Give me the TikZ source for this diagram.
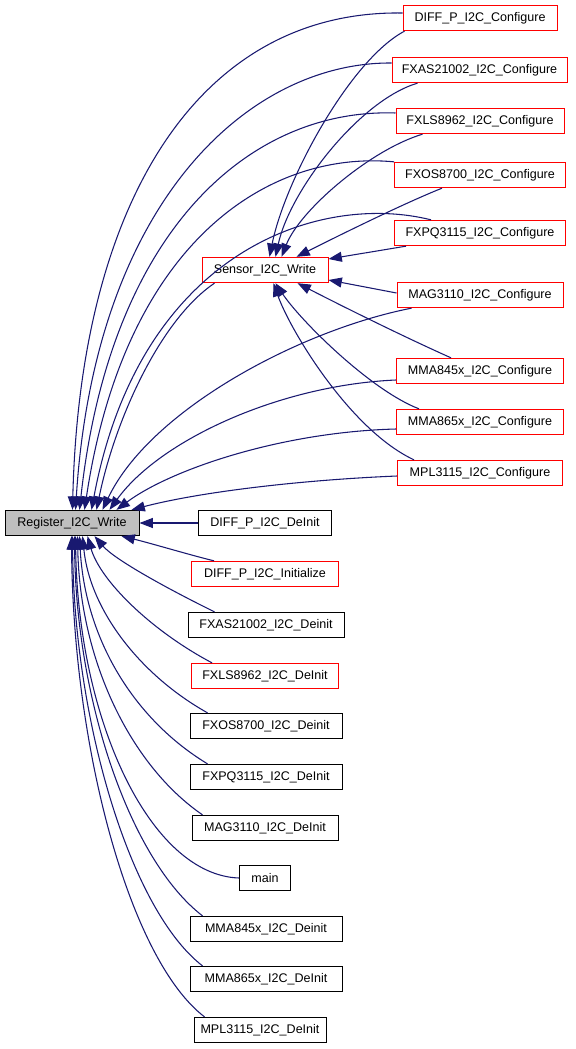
\documentclass[tikz,border=0pt]{standalone}
\usepackage{fontspec}
\setmainfont{Liberation Sans}
\usetikzlibrary{arrows.meta,calc}
\definecolor{edgec}{HTML}{191970}
\definecolor{redc}{HTML}{FF0000}
\definecolor{grayc}{HTML}{BFBFBF}
\begin{document}
\begin{tikzpicture}[x=0.75pt,y=-0.75pt,
  font=\fontsize{9.4}{11}\selectfont,
  box/.style={draw=black, line width=0.75pt, fill=white, minimum height=19pt, inner sep=0pt},
  rbox/.style={box, draw=redc},
  arr/.style={draw=edgec, line width=0.8pt, -{Triangle[length=10pt,width=7.5pt]}, fill=none}]
\useasboundingbox (0,0) rectangle (575,1049);

% nodes
\node[box, fill=grayc, minimum width=100.5pt] (reg) at (72,523) {Register\_I2C\_Write};
\node[rbox, minimum width=94.5pt] (sens) at (265,270) {Sensor\_I2C\_Write};

\node[rbox, minimum width=115.5pt] (c1) at (480,18) {DIFF\_P\_I2C\_Configure};
\node[rbox, minimum width=131.25pt] (c2) at (479.5,70) {FXAS21002\_I2C\_Configure};
\node[rbox, minimum width=126pt] (c3) at (480,121) {FXLS8962\_I2C\_Configure};
\node[rbox, minimum width=128.25pt] (c4) at (480,175) {FXOS8700\_I2C\_Configure};
\node[rbox, minimum width=128.25pt] (c5) at (480,233) {FXPQ3115\_I2C\_Configure};
\node[rbox, minimum width=124.5pt] (c6) at (480,295) {MAG3110\_I2C\_Configure};
\node[rbox, minimum width=125.25pt] (c7) at (480,371) {MMA845x\_I2C\_Configure};
\node[rbox, minimum width=125.25pt] (c8) at (480,422) {MMA865x\_I2C\_Configure};
\node[rbox, minimum width=123.75pt] (c9) at (480,473) {MPL3115\_I2C\_Configure};

\node[box, minimum width=99.75pt] (d1) at (265,523) {DIFF\_P\_I2C\_DeInit};
\node[rbox, minimum width=110.25pt] (d2) at (265,574) {DIFF\_P\_I2C\_Initialize};
\node[box, minimum width=117pt] (d3) at (266,625) {FXAS21002\_I2C\_Deinit};
\node[rbox, minimum width=110.25pt] (d4) at (265,676) {FXLS8962\_I2C\_DeInit};
\node[box, minimum width=114pt] (d5) at (266,726) {FXOS8700\_I2C\_Deinit};
\node[box, minimum width=114pt] (d6) at (266,777) {FXPQ3115\_I2C\_DeInit};
\node[box, minimum width=109.5pt] (d7) at (265,828) {MAG3110\_I2C\_DeInit};
\node[box, minimum width=38.25pt] (d8) at (265,878) {main};
\node[box, minimum width=114pt] (d9) at (266,929) {MMA845x\_I2C\_Deinit};
\node[box, minimum width=114pt] (d10) at (266,979) {MMA865x\_I2C\_DeInit};
\node[box, minimum width=99pt] (d11) at (260,1030) {MPL3115\_I2C\_DeInit};

% edges into Register_I2C_Write (top)
\draw[arr] ($(c1.west)+(0,-5)$) .. controls (200,10) and (80,200) .. ($(reg.north west)+(68,0)$);
\draw[arr] ($(c2.west)+(0,-7)$) .. controls (250,62) and (95,200) .. ($(reg.north west)+(71,0)$);
\draw[arr] ($(c3.west)+(0,-8)$) .. controls (250,108) and (110,230) .. ($(reg.north west)+(75,0)$);
\draw[arr] (c4.north west) .. controls (270,150) and (125,240) .. ($(reg.north west)+(80,0)$);
\draw[arr] ($(c5.north west)+(37,0)$) .. controls (320,192) and (140,250) .. ($(reg.north west)+(87,0)$);
\draw[arr] ($(sens.south west)+(13,0)$) .. controls (160,320) and (115,420) .. ($(reg.north west)+(92,0)$);
\draw[arr] ($(c6.south west)+(15,0)$) .. controls (300,330) and (150,410) .. ($(reg.north west)+(98,0)$);
\draw[arr] ($(c7.west)+(0,9)$) .. controls (280,385) and (160,440) .. ($(reg.north west)+(105,0)$);
\draw[arr] ($(c8.west)+(0,7)$) .. controls (280,432) and (170,470) .. ($(reg.north west)+(112,0)$);
\draw[arr] ($(c9.west)+(0,3)$) .. controls (300,480) and (200,492) .. ($(reg.north west)+(127,0)$);

% edges into Register_I2C_Write (side and bottom)
\draw[arr] (d1.west) -- (reg.east);
\draw[arr] ($(d2.north west)+(23,0)$) .. controls (190,555) and (150,543) .. ($(reg.south west)+(117,0)$);
\draw[arr] ($(d3.north west)+(27,0)$) .. controls (170,590) and (115,560) .. ($(reg.south west)+(90,0)$);
\draw[arr] ($(d4.north west)+(21,0)$) .. controls (150,630) and (100,580) .. ($(reg.south west)+(83,0)$);
\draw[arr] ($(d5.north west)+(18,0)$) .. controls (140,675) and (90,610) .. ($(reg.south west)+(78,0)$);
\draw[arr] ($(d6.north west)+(18,0)$) .. controls (135,720) and (85,640) .. ($(reg.south west)+(75,0)$);
\draw[arr] ($(d7.north west)+(11,0)$) .. controls (130,765) and (80,660) .. ($(reg.south west)+(73,0)$);
\draw[arr] (d8.west) .. controls (150,875) and (78,720) .. ($(reg.south west)+(71,0)$);
\draw[arr] ($(d9.north west)+(13,0)$) .. controls (130,860) and (76,700) .. ($(reg.south west)+(70,0)$);
\draw[arr] ($(d10.north west)+(13,0)$) .. controls (130,910) and (74,720) .. ($(reg.south west)+(68,0)$);
\draw[arr] ($(d11.north west)+(11,0)$) .. controls (130,960) and (73,750) .. ($(reg.south west)+(67,0)$);

% edges into Sensor_I2C_Write
\draw[arr] ($(c1.south west)+(2,0)$) .. controls (350,60) and (285,180) .. ($(sens.north west)+(68,0)$);
\draw[arr] ($(c2.south west)+(26,0)$) .. controls (360,100) and (290,190) .. ($(sens.north west)+(74,0)$);
\draw[arr] ($(c3.south west)+(27,0)$) .. controls (370,150) and (300,210) .. ($(sens.north west)+(80,0)$);
\draw[arr] ($(c4.south west)+(48,0)$) .. controls (400,205) and (330,240) .. ($(sens.north west)+(95,0)$);
\draw[arr] ($(c5.south west)+(12,0)$) -- ($(sens.east)+(0,-11)$);
\draw[arr] ($(c6.west)+(0,-2)$) -- ($(sens.east)+(0,10)$);
\draw[arr] ($(c7.north west)+(55,0)$) .. controls (400,335) and (340,305) .. ($(sens.south west)+(96,0)$);
\draw[arr] ($(c8.north west)+(23,0)$) .. controls (370,390) and (300,320) .. ($(sens.south west)+(74,0)$);
\draw[arr] ($(c9.north west)+(17,0)$) .. controls (350,430) and (290,330) .. ($(sens.south west)+(72,0)$);
\end{tikzpicture}
\end{document}
